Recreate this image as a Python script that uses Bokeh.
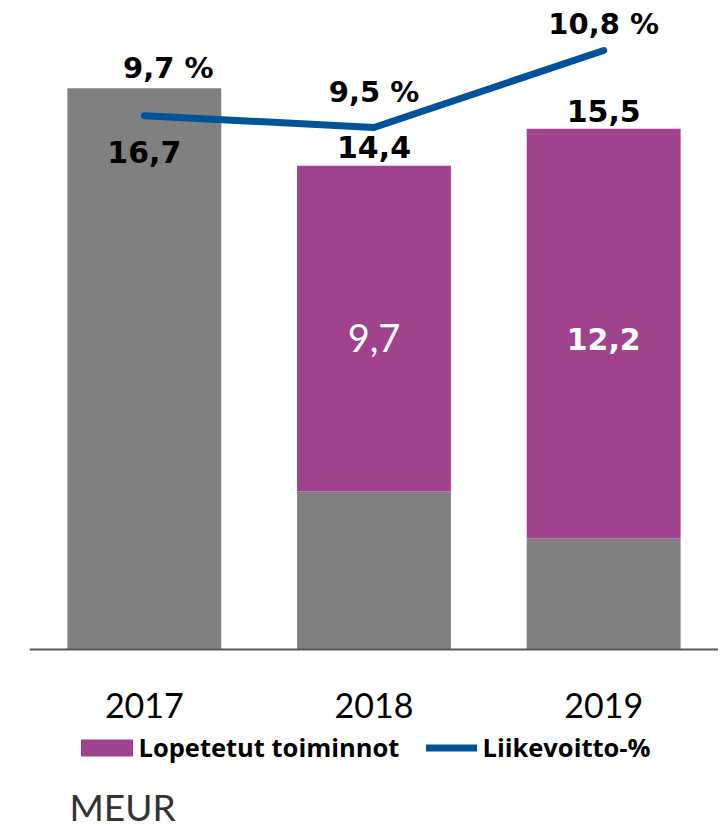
from bokeh.plotting import figure
from bokeh.models import ColumnDataSource, Range1d, FactorRange, Legend, LegendItem, Label, Span
from bokeh.core.properties import value
from bokeh.embed import file_html
from bokeh.resources import INLINE

# ---- data ----
years = ["2017", "2018", "2019"]
continuing = [16.7, 4.7, 3.3]          # gray part
discontinued = [0.0, 9.7, 12.2]        # purple part (Lopetetut toiminnot)
totals = [16.7, 14.4, 15.5]
margin_pct = [9.7, 9.5, 10.8]          # Liikevoitto-%
total_labels = ["16,7", "14,4", "15,5"]
disc_labels = ["", "9,7", "12,2"]
pct_labels = ["9,7 %", "9,5 %", "10,8 %"]

GRAY = "#808080"
PURPLE = "#A0428D"
BLUE = "#00529B"
FONT = "Lato"
NUMFONT = "DejaVu Sans"
LEGFONT = "Open Sans"

p = figure(x_range=FactorRange(*years, range_padding=0),
           y_range=Range1d(-5.357, 19.315),
           width=718, height=829,
           output_backend="svg", toolbar_location=None,
           min_border_left=29, min_border_right=0,
           min_border_top=0, min_border_bottom=0)
p.extra_y_ranges = {"pct": Range1d(-2.352, 11.644)}

src = ColumnDataSource(dict(x=years, cont=continuing, disc=discontinued))
rs = p.vbar_stack(["cont", "disc"], x="x", width=0.67, source=src,
                  color=[GRAY, PURPLE], line_color=None)

line_src = ColumnDataSource(dict(x=years, y=margin_pct, t=pct_labels,
                                 xo=[24, 0, 0], yo=[-48, -35, -26]))
lr = p.line("x", "y", source=line_src, y_range_name="pct", line_color=BLUE,
            line_width=7, line_cap="round", line_join="round")

# total labels
tot_src = ColumnDataSource(dict(x=years, y=totals, t=total_labels, yo=[64, -19, -18]))
p.text("x", "y", text="t", source=tot_src, y_offset="yo", text_align="center",
       text_baseline="middle", text_font=value(NUMFONT), text_font_style="bold",
       text_font_size="30px", text_color="black")

# discontinued labels (white)
mid = [c + d / 2 for c, d in zip(continuing, discontinued)]
disc_src = ColumnDataSource(dict(x=years, y=mid, t=disc_labels, yo=[0, 9, 5],
                                 fs=["30px", "38px", "30px"],
                                 st=["bold", "normal", "bold"],
                                 fn=[NUMFONT, FONT, NUMFONT]))
p.text("x", "y", text="t", source=disc_src, y_offset="yo", text_align="center",
       text_baseline="middle", text_font="fn", text_font_style="st",
       text_font_size="fs", text_color="white")

# pct labels
p.text("x", "y", text="t", source=line_src, y_range_name="pct", x_offset="xo",
       y_offset="yo", text_align="center", text_baseline="middle",
       text_font=value(NUMFONT), text_font_style="bold", text_font_size="29px",
       text_color="black")

# category labels and baseline
p.text(x=years, y=[0, 0, 0], text=years, y_offset=56, text_align="center",
       text_baseline="middle", text_font=value(FONT), text_font_size="34px",
       text_color="black")
p.add_layout(Span(location=0, dimension="width", line_color="#595959", line_width=2))

p.xaxis.visible = False
p.yaxis.visible = False
p.xgrid.visible = False
p.ygrid.visible = False
p.outline_line_color = None

common = dict(orientation="horizontal", padding=0, margin=0,
              border_line_color=None, background_fill_alpha=0,
              label_text_font=LEGFONT, label_text_font_style="bold",
              label_text_font_size="25.5px", label_text_color="black")
legend1 = Legend(items=[LegendItem(label="Lopetetut toiminnot", renderers=[rs[1]])],
                 location=(44.5, 65), glyph_width=65, glyph_height=21,
                 label_standoff=0, **common)
legend2 = Legend(items=[LegendItem(label="Liikevoitto-%", renderers=[lr])],
                 location=(396.5, 65), glyph_width=51, glyph_height=21,
                 label_standoff=6, **common)
p.add_layout(legend1, "center")
p.add_layout(legend2, "center")

p.add_layout(Label(x=40, y=23, x_units="screen", y_units="screen", text="MEUR",
                   text_baseline="alphabetic",
                   text_font=FONT, text_font_size="37px", text_color="#333333"))

open("out.html", "w").write(file_html(p, INLINE))
